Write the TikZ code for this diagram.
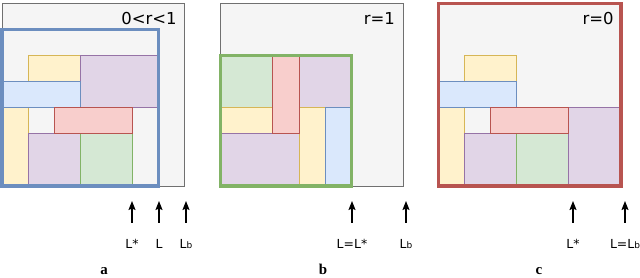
\documentclass[tikz,border=0pt]{standalone}
\usepackage{fontspec}
\setmainfont{DejaVu Sans}
\newfontfamily\capfont{Liberation Serif}
\usetikzlibrary{arrows.meta}
\definecolor{binfill}{HTML}{F5F5F5}
\definecolor{bindraw}{HTML}{707070}
\definecolor{bluefill}{HTML}{DAE8FC}
\definecolor{bluedraw}{HTML}{6C8EBF}
\definecolor{yelfill}{HTML}{FFF2CC}
\definecolor{yeldraw}{HTML}{D6B656}
\definecolor{purfill}{HTML}{E1D5E7}
\definecolor{purdraw}{HTML}{9673A6}
\definecolor{redfill}{HTML}{F8CECC}
\definecolor{reddraw}{HTML}{B85450}
\definecolor{grnfill}{HTML}{D5E8D4}
\definecolor{grndraw}{HTML}{82B366}
\tikzset{
  bin/.style={fill=binfill,draw=bindraw,line width=1bp},
  blk/.style={line width=1bp,line join=miter},
  yel/.style={blk,fill=yelfill,draw=yeldraw},
  blu/.style={blk,fill=bluefill,draw=bluedraw},
  pur/.style={blk,fill=purfill,draw=purdraw},
  redb/.style={blk,fill=redfill,draw=reddraw},
  grn/.style={blk,fill=grnfill,draw=grndraw},
  frameblue/.style={draw=bluedraw,line width=3.3bp},
  framegreen/.style={draw=grndraw,line width=3.3bp},
  framered/.style={draw=reddraw,line width=3.3bp},
  rlab/.style={inner sep=0pt,anchor=base east,font=\fontsize{16.5}{18}\selectfont},
  blab/.style={inner sep=0pt,anchor=base,font=\fontsize{12.5}{14}\selectfont},
  caplab/.style={inner sep=0pt,anchor=base,font=\capfont\bfseries\fontsize{15}{17}\selectfont},
  arr/.style={line width=1.2bp,-{Stealth[length=9bp,width=7bp,inset=1.5bp]},shorten <=16bp}
}
\newcommand{\Lb}{L{\fontsize{9}{10}\selectfont b}}
\begin{document}
\begin{tikzpicture}[x=1bp,y=-1bp]
\useasboundingbox (0,0) rectangle (640,277);
% panel a
\begin{scope}[shift={(2bp,-186bp)},x=26.1bp,y=26.1bp]
  \draw[bin] (0,0) rectangle (7,7);
  \draw[yel] (0,0) rectangle (1,3);
  \draw[yel] (1,4) rectangle (3,5);
  \draw[pur] (3,3) rectangle (6,5);
  \draw[blu] (0,3) rectangle (3,4);
  \draw[pur] (1,0) rectangle (3,2);
  \draw[grn] (3,0) rectangle (5,2);
  \draw[redb] (2,2) rectangle (5,3);
  \draw[frameblue] (0,0) rectangle (6,6);
  \node[rlab] (ra) at (6.7,6.17) {0<r<1};
\end{scope}
% panel b
\begin{scope}[shift={(220.7bp,-186bp)},x=26.1bp,y=26.1bp]
  \draw[bin] (0,0) rectangle (7,7);
  \draw[grn] (0,3) rectangle (2,5);
  \draw[pur] (3,3) rectangle (5,5);
  \draw[yel] (0,2) rectangle (2,3);
  \draw[pur] (0,0) rectangle (3,2);
  \draw[yel] (3,0) rectangle (4,3);
  \draw[blu] (4,0) rectangle (5,3);
  \draw[redb] (2,2) rectangle (3,5);
  \draw[framegreen] (0,0) rectangle (5,5);
  \node[rlab] (rb) at (6.68,6.17) {r=1};
\end{scope}
% panel c
\begin{scope}[shift={(438.3bp,-186bp)},x=26.1bp,y=26.1bp]
  \draw[bin] (0,0) rectangle (7,7);
  \draw[yel] (0,0) rectangle (1,3);
  \draw[yel] (1,4) rectangle (3,5);
  \draw[blu] (0,3) rectangle (3,4);
  \draw[pur] (1,0) rectangle (3,2);
  \draw[grn] (3,0) rectangle (5,2);
  \draw[pur] (5,0) rectangle (7,3);
  \draw[redb] (2,2) rectangle (5,3);
  \draw[framered] (0,0) rectangle (7,7);
  \node[rlab] (rc) at (6.72,6.17) {r=0};
\end{scope}
% bottom labels and arrows
\node[blab] (a1) at (132,248) {L*};
\node[blab] (a2) at (159,248) {L};
\node[blab] (a3) at (186,248) {\Lb};
\node[blab] (b1) at (352,248) {L=L*};
\node[blab] (b2) at (406,248) {\Lb};
\node[blab] (c1) at (573,248) {L*};
\node[blab] (c2) at (625,248) {L=\Lb};
\coordinate (a1t) at (132,201);
\coordinate (a2t) at (159,201);
\coordinate (a3t) at (186,201);
\coordinate (b1t) at (352,201);
\coordinate (b2t) at (406,201);
\coordinate (c1t) at (573,201);
\coordinate (c2t) at (625,201);
\draw[arr] (a1.north) -- (a1t);
\draw[arr] (a2.north) -- (a2t);
\draw[arr] (a3.north) -- (a3t);
\draw[arr] (b1.north) -- (b1t);
\draw[arr] (b2.north) -- (b2t);
\draw[arr] (c1.north) -- (c1t);
\draw[arr] (c2.north -| c2t) -- (c2t);
% captions
\node[caplab] (capa) at (104,274) {a};
\node[caplab] (capb) at (323,274) {b};
\node[caplab] (capc) at (539,274) {c};
\end{tikzpicture}
\end{document}
